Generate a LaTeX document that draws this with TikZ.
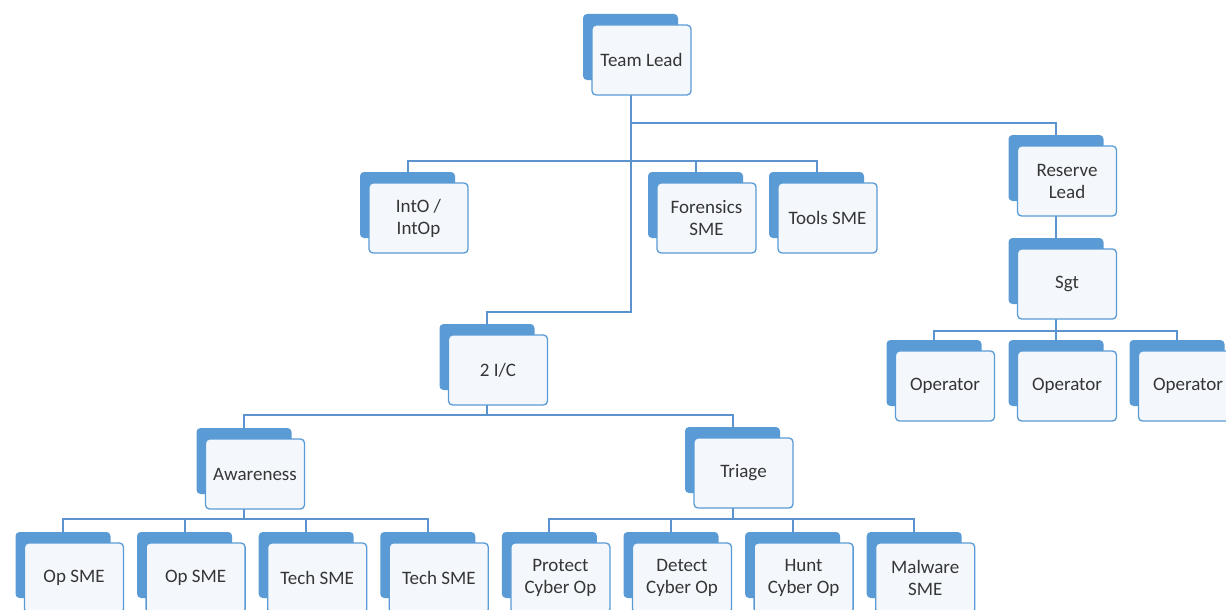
\documentclass[tikz,border=0pt]{standalone}
\usepackage{fontspec}
\setmainfont{Carlito}
\usetikzlibrary{backgrounds}

\definecolor{orgblue}{HTML}{5B9BD5}
\definecolor{orgline}{HTML}{5B93CF}
\definecolor{orgfill}{HTML}{F4F8FC}
\definecolor{orgtext}{HTML}{353535}

\tikzset{
  frontbox/.style={draw=orgblue, line width=1.3pt, fill=orgfill, rounded corners=4pt,
    minimum width=99pt, minimum height=70pt, inner sep=2pt, align=center,
    font=\fontsize{19}{22}\selectfont, text=orgtext},
  backbox/.style={fill=orgblue, rounded corners=4pt, minimum width=95pt,
    minimum height=66pt, inner sep=0pt},
  link/.style={draw=orgline, line width=2pt},
}

% one org-chart entry: a blue card behind a light card holding the label
\newcommand\orgbox[4]{%
  \node[backbox] (#1-b) at ({#2-11},{#3-13}) {};
  \node[frontbox] (#1) at (#2,#3) {#4};
}

\begin{document}
\begin{tikzpicture}[x=1pt,y=-1pt]
\useasboundingbox (0,0) rectangle (1226,610);
\clip (0,0) rectangle (1226,610);

% bus levels
\coordinate (busA) at (0,123);
\coordinate (busB) at (0,161);
\coordinate (busC) at (0,312);
\coordinate (busD) at (0,331);
\coordinate (busE) at (0,415);
\coordinate (busF) at (0,519);

\orgbox{tl}{641.5}{60}{Team Lead}
\orgbox{into}{418.5}{218}{IntO /\\IntOp}
\orgbox{for}{706.5}{218}{Forensics\\SME}
\orgbox{tools}{827.5}{218}{Tools SME}
\orgbox{rl}{1067}{181}{Reserve\\Lead}
\orgbox{sgt}{1067}{284}{Sgt}
\orgbox{opa}{945}{386}{Operator}
\orgbox{opb}{1067}{386}{Operator}
\orgbox{opc}{1188}{386}{Operator}
\orgbox{ic}{498}{370}{2 I/C}
\orgbox{aw}{255}{474}{Awareness}
\orgbox{tr}{743.5}{473}{Triage}
\orgbox{b1}{74}{578}{Op SME}
\orgbox{b2}{195.6}{578}{Op SME}
\orgbox{b3}{317.2}{578}{Tech SME}
\orgbox{b4}{438.8}{578}{Tech SME}
\orgbox{b5}{560.4}{578}{Protect\\Cyber Op}
\orgbox{b6}{682}{578}{Detect\\Cyber Op}
\orgbox{b7}{803.6}{578}{Hunt\\Cyber Op}
\orgbox{b8}{925.2}{578}{Malware\\SME}

\begin{pgfonlayer}{background}
  \fill[white] (0,0) rectangle (1226,610);
  % team lead to reserve lead and 2 I/C
  \draw[link] (tl-b.center) -- (tl-b.center |- busA) -| (rl-b.center);
  \draw[link] (tl-b.center) -- (tl-b.center |- busC) -| (ic-b.center);
  % staff row
  \draw[link] (into-b.center) -- (into-b.center |- busB) -| (tools-b.center);
  \draw[link] (for-b.center) -- (for-b.center |- busB);
  % reserve branch
  \draw[link] (rl-b.center) -- (sgt-b.center);
  \draw[link] (opa-b.center) -- (opa-b.center |- busD) -| (opc-b.center);
  \draw[link] (sgt-b.center) -- (opb-b.center);
  % 2 I/C branch
  \draw[link] (ic-b.center) -- (ic-b.center |- busE);
  \draw[link] (aw-b.center) -- (aw-b.center |- busE) -| (tr-b.center);
  \draw[link] (b1-b.center) -- (b1-b.center |- busF) -| (b4-b.center);
  \draw[link] (b2-b.center) -- (b2-b.center |- busF);
  \draw[link] (b3-b.center) -- (b3-b.center |- busF);
  \draw[link] (aw-b.center) -- (aw-b.center |- busF);
  \draw[link] (b5-b.center) -- (b5-b.center |- busF) -| (b8-b.center);
  \draw[link] (b6-b.center) -- (b6-b.center |- busF);
  \draw[link] (b7-b.center) -- (b7-b.center |- busF);
  \draw[link] (tr-b.center) -- (tr-b.center |- busF);
\end{pgfonlayer}
\end{tikzpicture}
\end{document}
